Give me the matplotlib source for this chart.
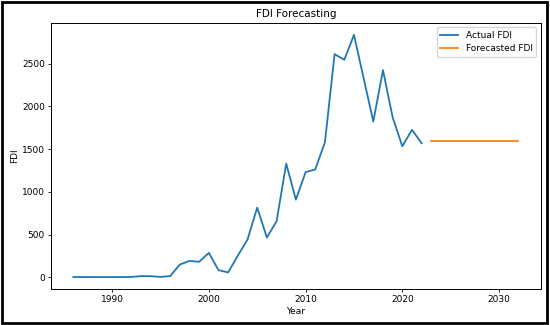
import matplotlib
matplotlib.use("Agg")
import matplotlib.pyplot as plt
from matplotlib.patches import Rectangle

actual_years = list(range(1986, 2023))
actual_fdi = [5, 4, 4, 3, 4, 4, 5, 15, 14, 6, 15, 150, 193, 182, 287,
              85, 58, 255, 443, 816, 466, 656, 1329, 909, 1231, 1262, 1580,
              2611, 2544, 2836, 2330, 1822, 2424, 1872, 1534, 1725, 1569]
forecast_years = list(range(2023, 2033))
forecast_fdi = [1592] * 10

fig = plt.figure(figsize=(5.5, 3.25), dpi=100)
ax = fig.add_axes([0.093, 0.110, 0.890, 0.820])
ax.plot(actual_years, actual_fdi, color="#1f77b4", lw=1.3, label="Actual FDI")
ax.plot(forecast_years, forecast_fdi, color="#ff7f0e", lw=1.3, label="Forecasted FDI")
ax.set_title("FDI Forecasting", fontsize=7.5, pad=4)
ax.set_xlabel("Year", fontsize=6.5, labelpad=2)
ax.set_ylabel("FDI", fontsize=6.5, labelpad=2)
ax.tick_params(labelsize=6.5, length=2.5, width=0.6, pad=2)
for s in ax.spines.values():
    s.set_linewidth(0.7)
ax.legend(loc="upper right", fontsize=6.5, frameon=True, handlelength=2)
fig.patches.append(Rectangle((0.004, 0.005), 0.990, 0.990, transform=fig.transFigure,
                             fill=False, edgecolor="black", linewidth=2))
fig.savefig("out.png", dpi=100)
